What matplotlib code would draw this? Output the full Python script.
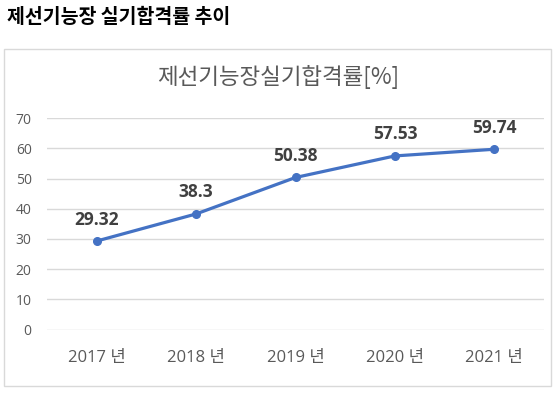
import matplotlib
matplotlib.use("Agg")
import matplotlib.pyplot as plt
from matplotlib.patches import Rectangle

plt.rcParams['font.family'] = ['Noto Sans CJK KR', 'DejaVu Sans']

categories = ["2017 년", "2018 년", "2019 년", "2020 년", "2021 년"]
values = [29.32, 38.3, 50.38, 57.53, 59.74]
value_labels = ["29.32", "38.3", "50.38", "57.53", "59.74"]
yticks = [0, 10, 20, 30, 40, 50, 60, 70]
heading = "제선기능장 실기합격률 추이"
chart_title = "제선기능장실기합격률[%]"

W, H = 558, 399
fig = plt.figure(figsize=(W / 100, H / 100), dpi=100)

# outer chart box
fig.patches.append(Rectangle((3.5 / W, 1 - 386 / H), (551 - 3.5) / W, (386 - 49) / H,
                             transform=fig.transFigure, fill=False,
                             edgecolor="#d9d9d9", linewidth=1.0))

fig.text(7 / W, 1 - 17 / H, heading, fontsize=14, fontweight="bold",
         color="#000000", ha="left", va="center")
fig.text(278 / W, 1 - 77 / H, chart_title, fontsize=16.2, color="#595959",
         ha="center", va="center")

left, right = 47 / W, 544 / W
bottom, top = 1 - 329.5 / H, 1 - 118.3 / H
ax = fig.add_axes([left, bottom, right - left, top - bottom])

x = list(range(len(categories)))
ax.plot(x, values, color="#4472C4", linewidth=2.3, marker="o", markersize=5.5,
        solid_capstyle="round", zorder=3, clip_on=False)
for xi, v, lab in zip(x, values, value_labels):
    ax.annotate(lab, (xi, v), xytext=(0, 15.5), textcoords="offset points",
                ha="center", va="center", fontsize=12.5, fontweight="bold",
                color="#404040", family=['Open Sans', 'DejaVu Sans'])

ax.set_xlim(-0.5, len(categories) - 0.5)
ax.set_ylim(0, 70)
ax.set_yticks(yticks)
ax.set_yticklabels([str(t) for t in yticks])
ax.set_xticks(x)
ax.set_xticklabels(categories)
ax.grid(axis="y", color="#d9d9d9", linewidth=1.0)
ax.set_axisbelow(True)
for s in ax.spines.values():
    s.set_visible(False)
ax.tick_params(axis="both", length=0)
ax.tick_params(axis="y", pad=11, labelsize=10, labelcolor="#595959")
ax.tick_params(axis="x", pad=14.5, labelsize=12, labelcolor="#595959")
for lbl in ax.get_yticklabels():
    lbl.set_fontfamily(['Open Sans', 'DejaVu Sans'])
for lbl in ax.get_xticklabels():
    lbl.set_fontfamily(['Open Sans', 'Noto Sans CJK KR'])

fig.savefig("out.png", dpi=100)
